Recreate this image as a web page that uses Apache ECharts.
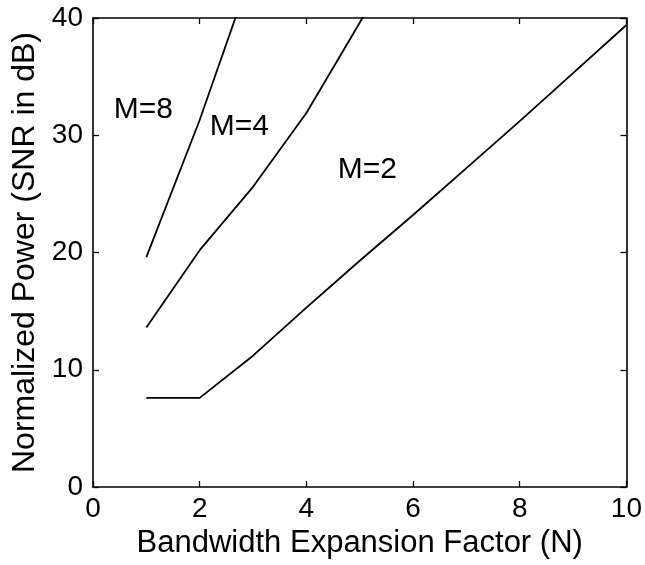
<!DOCTYPE html>
<html>
<head>
<meta charset="utf-8">
<script src="https://cdn.jsdelivr.net/npm/echarts@6/dist/echarts.min.js"></script>
<style>html,body{margin:0;padding:0;background:#fff;}#c{width:645px;height:565px;}</style>
</head>
<body>
<div id="c"></div>
<script>
const xTicks = [0, 2, 4, 6, 8, 10];
const yTicks = [0, 10, 20, 30, 40];
const nM2 = [1, 2, 3, 4, 5, 6, 7, 8, 9, 10];
const snrM2 = [7.6, 7.6, 11.2, 15.3, 19.3, 23.2, 27.2, 31.2, 35.3, 39.4];
const nM4 = [1, 2, 3, 4, 5, 6];
const snrM4 = [13.6, 20.2, 25.6, 31.9, 39.6, 47.5];
const nM8 = [1, 2, 3];
const snrM8 = [19.6, 31.3, 44.3];
const labelText = ['M=8', 'M=4', 'M=2'];
const labelN = [0.39, 2.19, 4.59];
const labelSNR = [32.2, 30.7, 27.1];
const xName = 'Bandwidth Expansion Factor (N)';
const yName = 'Normalized Power (SNR in dB)';

const FONT = 'Liberation Sans, Arial, Helvetica, sans-serif';
const zip = (a, b) => a.map((v, i) => [v, b[i]]);
const lineStyle = { color: '#000', width: 1.8 };
const mkLine = (name, xs, ys) => ({
  type: 'line', name, data: zip(xs, ys), showSymbol: false, symbol: 'none',
  lineStyle, clip: true, silent: true, animation: false, xAxisIndex: 0, yAxisIndex: 0
});
const axisLine = { show: true, onZero: false, lineStyle: { color: '#000', width: 1.6 } };
const tick = { show: true, inside: true, length: 6, lineStyle: { color: '#000', width: 1.3 } };

const chart = echarts.init(document.getElementById('c'));
chart.setOption({
  backgroundColor: '#fff',
  animation: false,
  grid: { left: 93, right: 18, top: 18, bottom: 78, containLabel: false },
  xAxis: [
    { type: 'value', min: 0, max: 10, interval: 2, position: 'bottom',
      axisLine, axisTick: tick, splitLine: { show: false },
      axisLabel: { color: '#000', fontSize: 28, fontFamily: FONT, margin: 8 },
      name: xName, nameLocation: 'middle', nameGap: 40,
      nameTextStyle: { color: '#000', fontSize: 31, fontFamily: FONT } },
    { type: 'value', min: 0, max: 10, interval: 2, position: 'top',
      axisLine, axisTick: tick, axisLabel: { show: false }, splitLine: { show: false } }
  ],
  yAxis: [
    { type: 'value', min: 0, max: 40, interval: 10, position: 'left',
      axisLine, axisTick: tick, splitLine: { show: false },
      axisLabel: { color: '#000', fontSize: 28, fontFamily: FONT, margin: 10 },
      name: yName, nameLocation: 'middle', nameGap: 47,
      nameTextStyle: { color: '#000', fontSize: 32, fontFamily: FONT } },
    { type: 'value', min: 0, max: 40, interval: 10, position: 'right',
      axisLine, axisTick: tick, axisLabel: { show: false }, splitLine: { show: false } }
  ],
  series: [
    mkLine('M=2', nM2, snrM2),
    mkLine('M=4', nM4, snrM4),
    mkLine('M=8', nM8, snrM8),
    { type: 'scatter', symbolSize: 0, silent: true, animation: false,
      itemStyle: { opacity: 1, color: '#000' },
      data: labelText.map((t, i) => ({ value: [labelN[i], labelSNR[i]], name: t })),
      label: { show: true, position: 'right', distance: 0, formatter: p => p.name,
        color: '#000', opacity: 1, fontSize: 30, fontFamily: FONT } }
  ]
});
</script>
</body>
</html>
